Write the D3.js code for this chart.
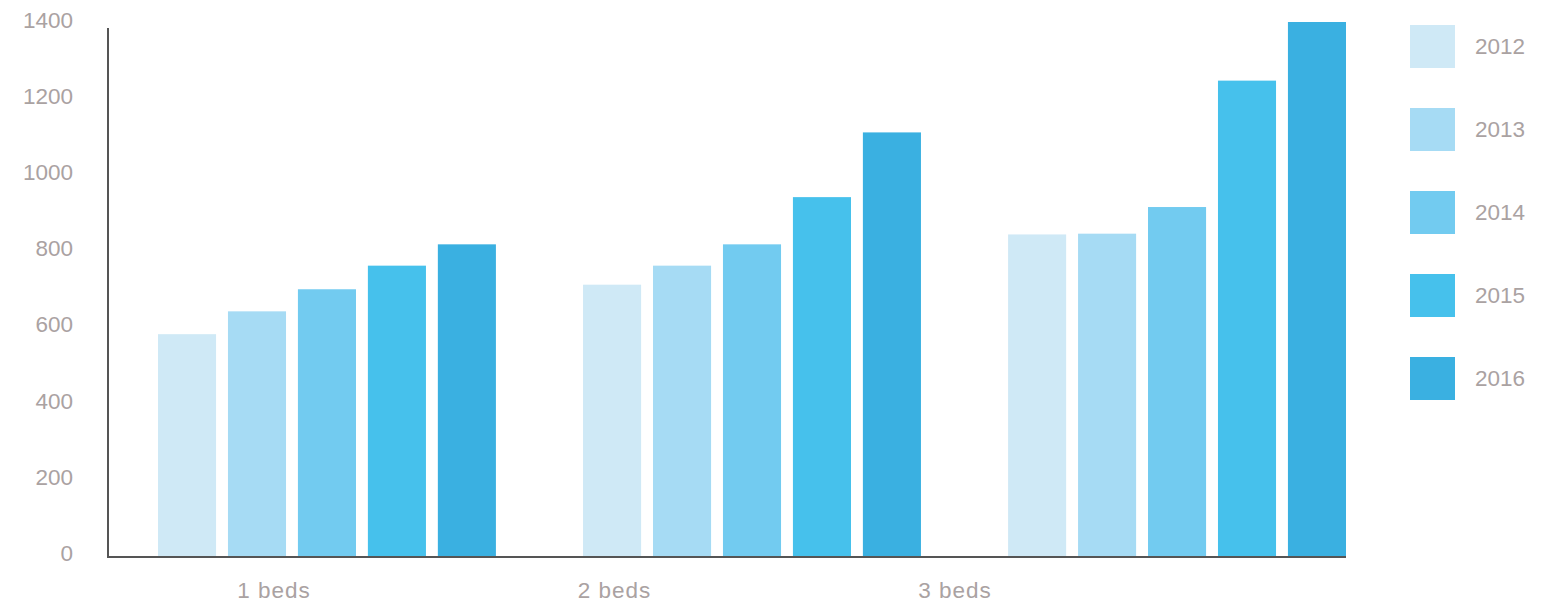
<!DOCTYPE html>
<html>
<head>
<meta charset="utf-8">
<script src="https://cdn.jsdelivr.net/npm/d3@7"></script>
<style>
  body { margin: 0; background: #fff; }
  text { font-family: "Liberation Sans", Arial, sans-serif; fill: #aaa2a2; }
</style>
</head>
<body>
<svg id="chart"></svg>
<script>
// data
var categories = ["1 beds", "2 beds", "3 beds"];
var years = ["2012", "2013", "2014", "2015", "2016"];
var values = {
    "1 beds": [580, 640, 698, 760, 816],
    "2 beds": [710, 760, 816, 940, 1110],
    "3 beds": [842, 844, 914, 1246, 1400]
};
var yTicks = [0, 200, 400, 600, 800, 1000, 1200, 1400];
var colors = ["#cfe9f6", "#a6dbf4", "#72cbf0", "#46c1ec", "#3ab0e1"];

var svg = d3.select("#chart")
    .attr("width", 1547)
    .attr("height", 602);

var y = d3.scaleLinear()
    .domain([0, 1400])
    .range([555, 22]);

var x0 = d3.scaleBand()
    .domain(categories)
    .range([158, 1346])
    .paddingInner(0.205)
    .paddingOuter(0);

var x1 = d3.scaleBand()
    .domain(years)
    .range([0, x0.bandwidth()])
    .paddingInner(0.17);

var color = d3.scaleOrdinal()
    .domain(years)
    .range(colors);

// label positions under the groups (not centred in the original)
var xLabel = d3.scalePoint()
    .domain(categories)
    .range([274, 955]);

// bars
var groups = svg.selectAll("g.group")
    .data(categories)
    .enter().append("g")
    .attr("class", "group")
    .attr("transform", d => `translate(${x0(d)},0)`);

groups.selectAll("rect")
    .data(d => years.map((yr, i) => ({year: yr, value: values[d][i]})))
    .enter().append("rect")
    .attr("x", d => x1(d.year))
    .attr("width", x1.bandwidth())
    .attr("y", d => y(d.value))
    .attr("height", d => y(0) - y(d.value) + 1)
    .attr("fill", d => color(d.year));

// y tick labels
svg.selectAll("text.ytick")
    .data(yTicks)
    .enter().append("text")
    .attr("class", "ytick")
    .attr("x", 73)
    .attr("y", d => y(d) - 2)
    .attr("dy", "0.35em")
    .attr("text-anchor", "end")
    .attr("font-size", "22.5px")
    .text(d => d);

// axes lines
svg.append("line")
    .attr("x1", 108).attr("x2", 108)
    .attr("y1", 28).attr("y2", 557)
    .attr("stroke", "#555")
    .attr("stroke-width", 2);

svg.append("line")
    .attr("x1", 107).attr("x2", 1346)
    .attr("y1", 557).attr("y2", 557)
    .attr("stroke", "#555")
    .attr("stroke-width", 2);

// category labels
svg.selectAll("text.cat")
    .data(categories)
    .enter().append("text")
    .attr("class", "cat")
    .attr("x", d => xLabel(d))
    .attr("y", 598)
    .attr("text-anchor", "middle")
    .attr("font-size", "22.5px")
    .attr("letter-spacing", "1px")
    .text(d => d);

// legend
var ly = d3.scalePoint()
    .domain(years)
    .range([25, 357]);

var legend = svg.selectAll("g.legend")
    .data(years)
    .enter().append("g")
    .attr("class", "legend")
    .attr("transform", d => `translate(1410,${ly(d)})`);

legend.append("rect")
    .attr("width", 45)
    .attr("height", 43)
    .attr("fill", d => color(d));

legend.append("text")
    .attr("x", 65)
    .attr("y", 29)
    .attr("font-size", "22.5px")
    .text(d => d);
</script>
</body>
</html>
